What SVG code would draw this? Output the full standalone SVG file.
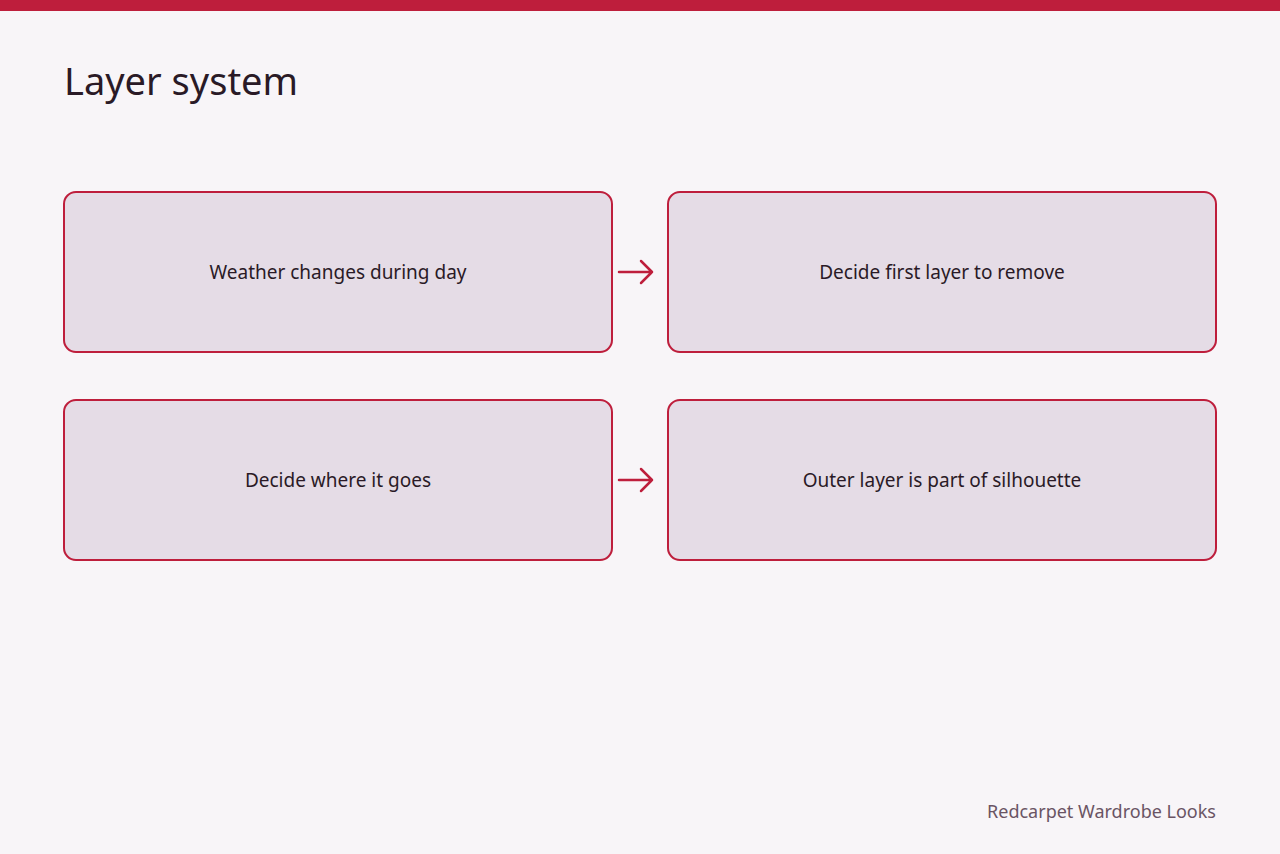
<svg xmlns="http://www.w3.org/2000/svg" width="1280" height="854" viewBox="0 0 1280 854">
<style>
.box{fill:#e5dce6;stroke:#be1e3c;stroke-width:2}
.lbl{font-family:"Noto Sans","Liberation Sans",sans-serif;font-size:19px;fill:#2a1a26;text-anchor:middle;dominant-baseline:central}
.arr{fill:none;stroke:#be1e3c;stroke-width:2.5;stroke-linecap:round;stroke-linejoin:round}
</style>
<rect width="1280" height="854" fill="#f8f5f8"/>
<rect width="1280" height="11" fill="#be1e3c"/>
<text x="64" y="95" font-family="Noto Sans,Liberation Sans,sans-serif" font-size="38" fill="#2a1a26">Layer system</text>
<g id="n1"><rect class="box" x="64" y="192" width="548" height="160" rx="12"/><text class="lbl" x="338" y="272">Weather changes during day</text></g>
<g id="n2"><rect class="box" x="668" y="192" width="548" height="160" rx="12"/><text class="lbl" x="942" y="272">Decide first layer to remove</text></g>
<g id="n3"><rect class="box" x="64" y="400" width="548" height="160" rx="12"/><text class="lbl" x="338" y="480">Decide where it goes</text></g>
<g id="n4"><rect class="box" x="668" y="400" width="548" height="160" rx="12"/><text class="lbl" x="942" y="480">Outer layer is part of silhouette</text></g>
<g id="connectors">
<path class="arr" d="M619 272H652M641 261L652 272L641 283"/>
<path class="arr" d="M619 480H652M641 469L652 480L641 491"/>
</g>
<text x="1216" y="818" text-anchor="end" font-family="Noto Sans,Liberation Sans,sans-serif" font-size="18" fill="#6a5464">Redcarpet Wardrobe Looks</text>
</svg>
